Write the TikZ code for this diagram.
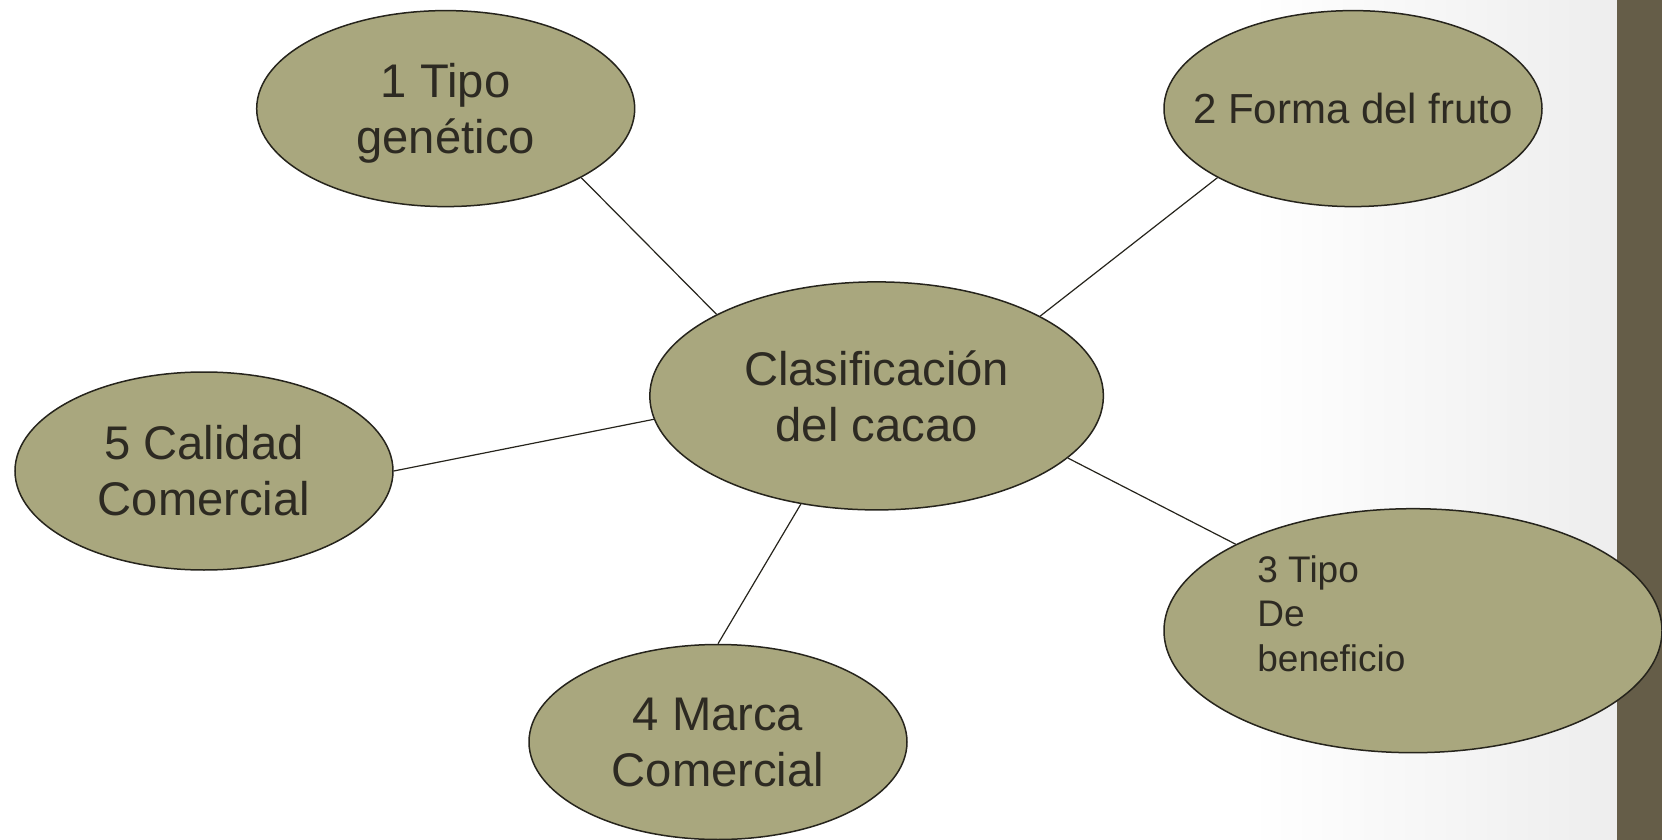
\documentclass[tikz,border=0pt]{standalone}
\usepackage{fontspec}
\setmainfont{Liberation Sans}
\usetikzlibrary{shapes.geometric}
\definecolor{olivefill}{RGB}{169,167,126}
\definecolor{edgecol}{RGB}{38,36,28}
\definecolor{txtcol}{RGB}{45,42,34}
\definecolor{barcol}{RGB}{101,93,72}
\begin{document}
\begin{tikzpicture}[x=0.5pt,y=-0.5pt,
  bubble/.style={ellipse,draw=edgecol,line width=0.75pt,fill=olivefill,inner sep=0pt,
    text=txtcol,align=center,font=\fontsize{23.6}{28}\selectfont},
  link/.style={draw=edgecol,line width=0.6pt}]
\useasboundingbox (0,0) rectangle (1662,840);
\fill[white] (0,0) rectangle (1662,840);
\shade[left color=white,right color=black!7] (1250,0) rectangle (1617,840);
\fill[barcol] (1617,0) rectangle (1662,840);
\node[bubble,minimum width=189pt,minimum height=98pt] (e1) at (445.7,108.6) {\raisebox{-3pt}[\height][\depth]{\begin{tabular}{@{}c@{}}1 Tipo\\gen\'etico\end{tabular}}};
\node[bubble,minimum width=189pt,minimum height=98pt,font=\fontsize{21}{25}\selectfont] (e2) at (1353,108.6) {\makebox[0pt]{2 Forma del fruto}};
\node[bubble,minimum width=226.8pt,minimum height=114pt] (ec) at (876.6,395.9) {Clasificación\\del cacao};
\node[bubble,minimum width=189pt,minimum height=99pt] (e5) at (204,471) {5 Calidad\\Comercial};
\node[bubble,minimum width=189pt,minimum height=97.5pt] (e4) at (718,742) {4 Marca\\Comercial};
\node[bubble,minimum width=249pt,minimum height=122pt] (e3) at (1413,630.7) {};
\node[anchor=west,align=left,inner sep=0pt,text=txtcol,font=\fontsize{18.5}{22.3}\selectfont] (t3) at (1257,613.7) {3 Tipo\\De\\beneficio};
\draw[link] (e1.-27.4) -- (ec.153.4);
\draw[link] (e2.207.4) -- (ec.26.6);
\draw[link] (e5.0) -- (ec.186.4);
\draw[link] (e4.90) -- (ec.235.7);
\draw[link] (ec.-18.9) -- (e3.154);
\end{tikzpicture}
\end{document}
